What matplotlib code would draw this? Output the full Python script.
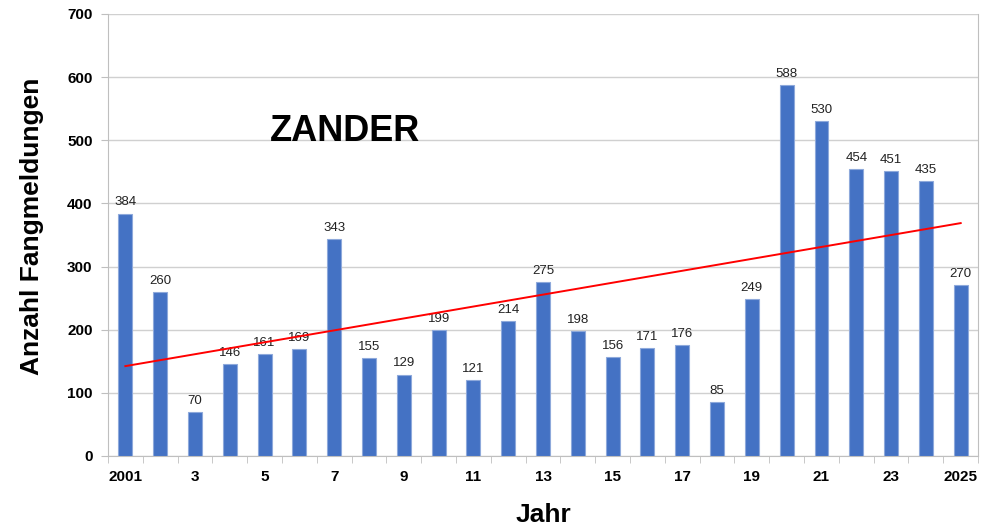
import matplotlib.pyplot as plt
import numpy as np

plt.rcParams['font.family'] = ['Liberation Sans', 'DejaVu Sans']

jahre = list(range(2001, 2026))
werte = [384, 260, 70, 146, 161, 169, 343, 155, 129, 199, 121, 214, 275,
         198, 156, 171, 176, 85, 249, 588, 530, 454, 451, 435, 270]
tick_labels = ["2001", "3", "5", "7", "9", "11", "13", "15", "17", "19",
               "21", "23", "2025"]

x = np.arange(len(jahre))

fig = plt.figure(figsize=(9.95, 5.32), dpi=100)
ax = fig.add_axes([0.1085, 0.1429, 0.8745, 0.8308])

ax.bar(x, werte, width=0.4, color="#4472C4", edgecolor="#8EA9DB", linewidth=0.8, zorder=3)
for xi, v in zip(x, werte):
    ax.text(xi, v + 8, str(v), ha="center", va="bottom", fontsize=9.5, color="#222222", zorder=4)

# lineare Trendlinie
k, d = np.polyfit(x, werte, 1)
ax.plot(x, k * x + d, color="red", linewidth=1.4, zorder=5)

ax.set_xlim(-0.5, len(jahre) - 0.5)
ax.set_ylim(0, 700)
ax.set_yticks(range(0, 701, 100))
ax.set_xticks(x[::2])
ax.set_xticklabels(tick_labels, fontsize=11, fontweight="bold")
ax.set_xticks(np.arange(-0.5, len(jahre), 1), minor=True)
ax.tick_params(axis="x", which="major", length=0, pad=10)
ax.tick_params(axis="x", which="minor", length=5, color="#BFBFBF")
ax.tick_params(axis="y", length=5, color="#BFBFBF", labelsize=11, pad=6)
for lab in ax.get_yticklabels():
    lab.set_fontweight("bold")

ax.grid(axis="y", color="#D0D0D0", linewidth=1, zorder=0)
for s in ["left", "bottom", "right"]:
    ax.spines[s].set_color("#BFBFBF")
ax.spines["top"].set_visible(False)

ax.set_ylabel("Anzahl Fangmeldungen", fontsize=19, fontweight="bold")
ax.yaxis.set_label_coords(-0.073, 0.52)
ax.set_xlabel("Jahr", fontsize=19, fontweight="bold", labelpad=14)
ax.text(0.186, 0.735, "ZANDER", transform=ax.transAxes, fontsize=26, fontweight="bold",
        ha="left", va="center")

fig.savefig("out.png", dpi=100)
